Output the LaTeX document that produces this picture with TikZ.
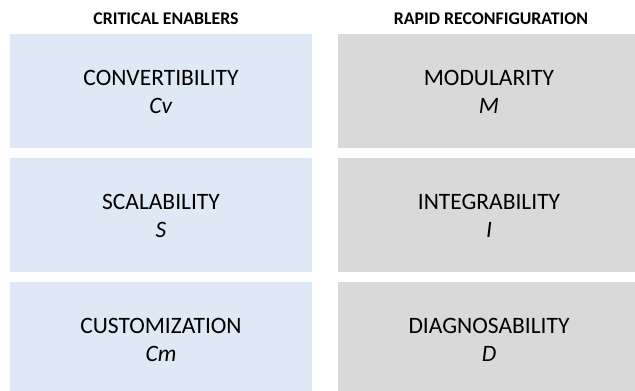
\documentclass[tikz,border=0pt]{standalone}
\usepackage{fontspec}
\setmainfont{Carlito}
\definecolor{enablerblue}{RGB}{222,233,245}
\definecolor{reconfgray}{RGB}{217,217,217}
\tikzset{
    enabler/.style={fill=enablerblue, minimum width=302pt, minimum height=114pt, inner sep=0pt},
    reconf/.style={fill=reconfgray, minimum width=302pt, minimum height=114pt, inner sep=0pt},
    heading/.style={font=\fontsize{17.8}{20}\selectfont\bfseries, anchor=base},
    label/.style={font=\fontsize{23.5}{28.5}\selectfont, align=center, yshift=-1pt}
}
\begin{document}
\begin{tikzpicture}[x=1pt, y=-1pt]
        \useasboundingbox (0,0) rectangle (635,391);
        \clip (0,0) rectangle (635,391);
        
        %the column headings
        \node [heading] (hce) at (166,24.3) {CRITICAL ENABLERS};
        \node [heading] (hrr) at (491,24.3) {RAPID RECONFIGURATION};
        
        %left column
        \node [enabler] (cv) at (161,91) {};
        \node [enabler] (s) at (161,215) {};
        \node [enabler] (cm) at (161,339) {};
        
        %right column
        \node [reconf] (m) at (489,91) {};
        \node [reconf] (i) at (489,215) {};
        \node [reconf] (d) at (489,339) {};
        
        \node [label] at (cv.center) {CONVERTIBILITY\\\textit{Cv}};
        \node [label] at (s.center) {SCALABILITY\\\textit{S}};
        \node [label] at (cm.center) {CUSTOMIZATION\\\textit{Cm}};
        \node [label] at (m.center) {MODULARITY\\\textit{M}};
        \node [label] at (i.center) {INTEGRABILITY\\\textit{I}};
        \node [label] at (d.center) {DIAGNOSABILITY\\\textit{D}};
        
    \end{tikzpicture}
\end{document}
